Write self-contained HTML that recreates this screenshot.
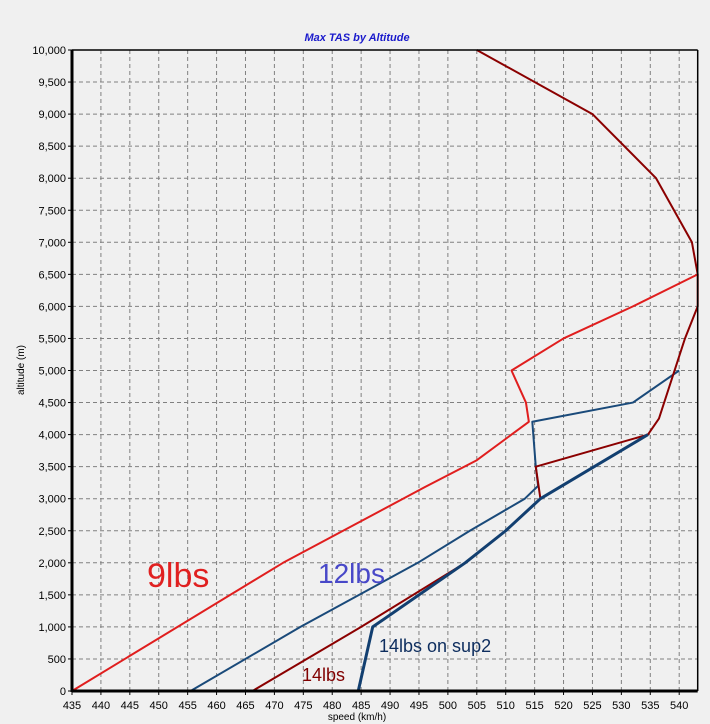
<!DOCTYPE html>
<html><head><meta charset="utf-8"><style>
body{margin:0;background:#f0f0f0;}
svg{display:block;font-family:"Liberation Sans",sans-serif;}
</style></head><body>
<svg id="chart" width="710" height="724" xmlns="http://www.w3.org/2000/svg">
<rect x="0" y="0" width="710" height="724" fill="#f0f0f0"/>
<text x="357" y="41" text-anchor="middle" font-size="11" font-weight="bold" font-style="italic" fill="#1a1acc">Max TAS by Altitude</text>
<text transform="translate(24,370) rotate(-90)" text-anchor="middle" font-size="10" fill="#000">altitude (m)</text>
<text x="357" y="720" text-anchor="middle" font-size="10" fill="#000">speed (km/h)</text>
<g id="grid"></g><g id="series"></g><g id="axes"></g>
<text x="147" y="587" font-size="34" fill="#e02020">9lbs</text>
<text x="318" y="583" font-size="28" fill="#4848c8">12lbs</text>
<text x="302" y="681" font-size="18" fill="#800000">14lbs</text>
<text x="379" y="652" font-size="18" fill="#0d2d5e">14lbs on sup2</text>
</svg>
<script>
const xTicks=[435,440,445,450,455,460,465,470,475,480,485,490,495,500,505,510,515,520,525,530,535,540];
const yTicks=[0,500,1000,1500,2000,2500,3000,3500,4000,4500,5000,5500,6000,6500,7000,7500,8000,8500,9000,9500,10000];
const s9Speed=[435,471.5,496,505,511,514,513.5,511,520,532,543.2];
const s9Alt=[0,2000,3180,3600,4000,4200,4500,5000,5500,6000,6500];
const s12Speed=[455.5,474.5,494.8,503.8,513.3,515.6,515.2,514.6,532,540];
const s12Alt=[0,1000,2000,2500,3000,3200,3500,4200,4500,5000];
const s14Speed=[466.2,485,503,510,516,515.2,534.6,536.5,541,543.2,543.2,542.2,536,525,505];
const s14Alt=[0,1000,2000,2500,3000,3500,4000,4250,5500,6000,6500,7000,8000,9000,10000];
const sSupSpeed=[484.5,487,503,510,516,534.6];
const sSupAlt=[0,1000,2000,2500,3000,4000];
const X0=72,X1=697.7,Y0=691,Y1=50,XMIN=435,XMAX=543.2,YMIN=0,YMAX=10000;
const xs=v=>X0+(v-XMIN)/(XMAX-XMIN)*(X1-X0);
const ys=v=>Y0-(v-YMIN)/(YMAX-YMIN)*(Y0-Y1);
const NS="http://www.w3.org/2000/svg";
function mk(t,a,p){const e=document.createElementNS(NS,t);for(const k in a)e.setAttribute(k,a[k]);p.appendChild(e);return e;}
const grid=document.getElementById('grid'),axes=document.getElementById('axes'),ser=document.getElementById('series');
xTicks.forEach(v=>{const x=xs(v);
 if(v>XMIN){const l=mk('line',{x1:x,x2:x,y1:Y1,y2:Y0,stroke:'#808080','stroke-dasharray':'4,3'},grid);
 
 }
 mk('line',{x1:x,x2:x,y1:Y0,y2:Y0+4,stroke:'#000'},axes);
 const t=mk('text',{x:x,y:Y0+18,'text-anchor':'middle','font-size':'11',fill:'#000'},axes);t.textContent=v;
 
 });
yTicks.forEach(v=>{const y=ys(v);
 if(v>YMIN&&v<YMAX){const l=mk('line',{x1:X0,x2:X1,y1:y,y2:y,stroke:'#808080','stroke-dasharray':'4,3'},grid);
 
 }
 mk('line',{x1:X0-4,x2:X0,y1:y,y2:y,stroke:'#000'},axes);
 const t=mk('text',{x:X0-6,y:y+4,'text-anchor':'end','font-size':'11',fill:'#000'},axes);t.textContent=v.toLocaleString('en-US');
 
 });
mk('line',{x1:X0,x2:X1,y1:Y1,y2:Y1,stroke:'#000','stroke-width':1.5},axes);
mk('line',{x1:X1,x2:X1,y1:Y1,y2:Y0,stroke:'#000','stroke-width':1.5},axes);
mk('line',{x1:X0,x2:X0,y1:Y1,y2:Y0+1,stroke:'#000','stroke-width':3},axes);
mk('line',{x1:X0,x2:X1,y1:Y0,y2:Y0,stroke:'#000','stroke-width':3},axes);
function line(sp,al,col,w,name){const pts=sp.map((s,i)=>xs(s)+','+ys(al[i])).join(' ');
 const p=mk('polyline',{points:pts,fill:'none',stroke:col,'stroke-width':w,'stroke-linejoin':'round'},ser);
 
 }
line(s9Speed,s9Alt,'#e01e1e',2,'series-9lbs');
line(s12Speed,s12Alt,'#1a4a7a',2,'series-12lbs');
line(s14Speed,s14Alt,'#8b0000',2,'series-14lbs');
line(sSupSpeed,sSupAlt,'#123f70',3,'series-14lbs-sup2');
</script>
</body></html>
